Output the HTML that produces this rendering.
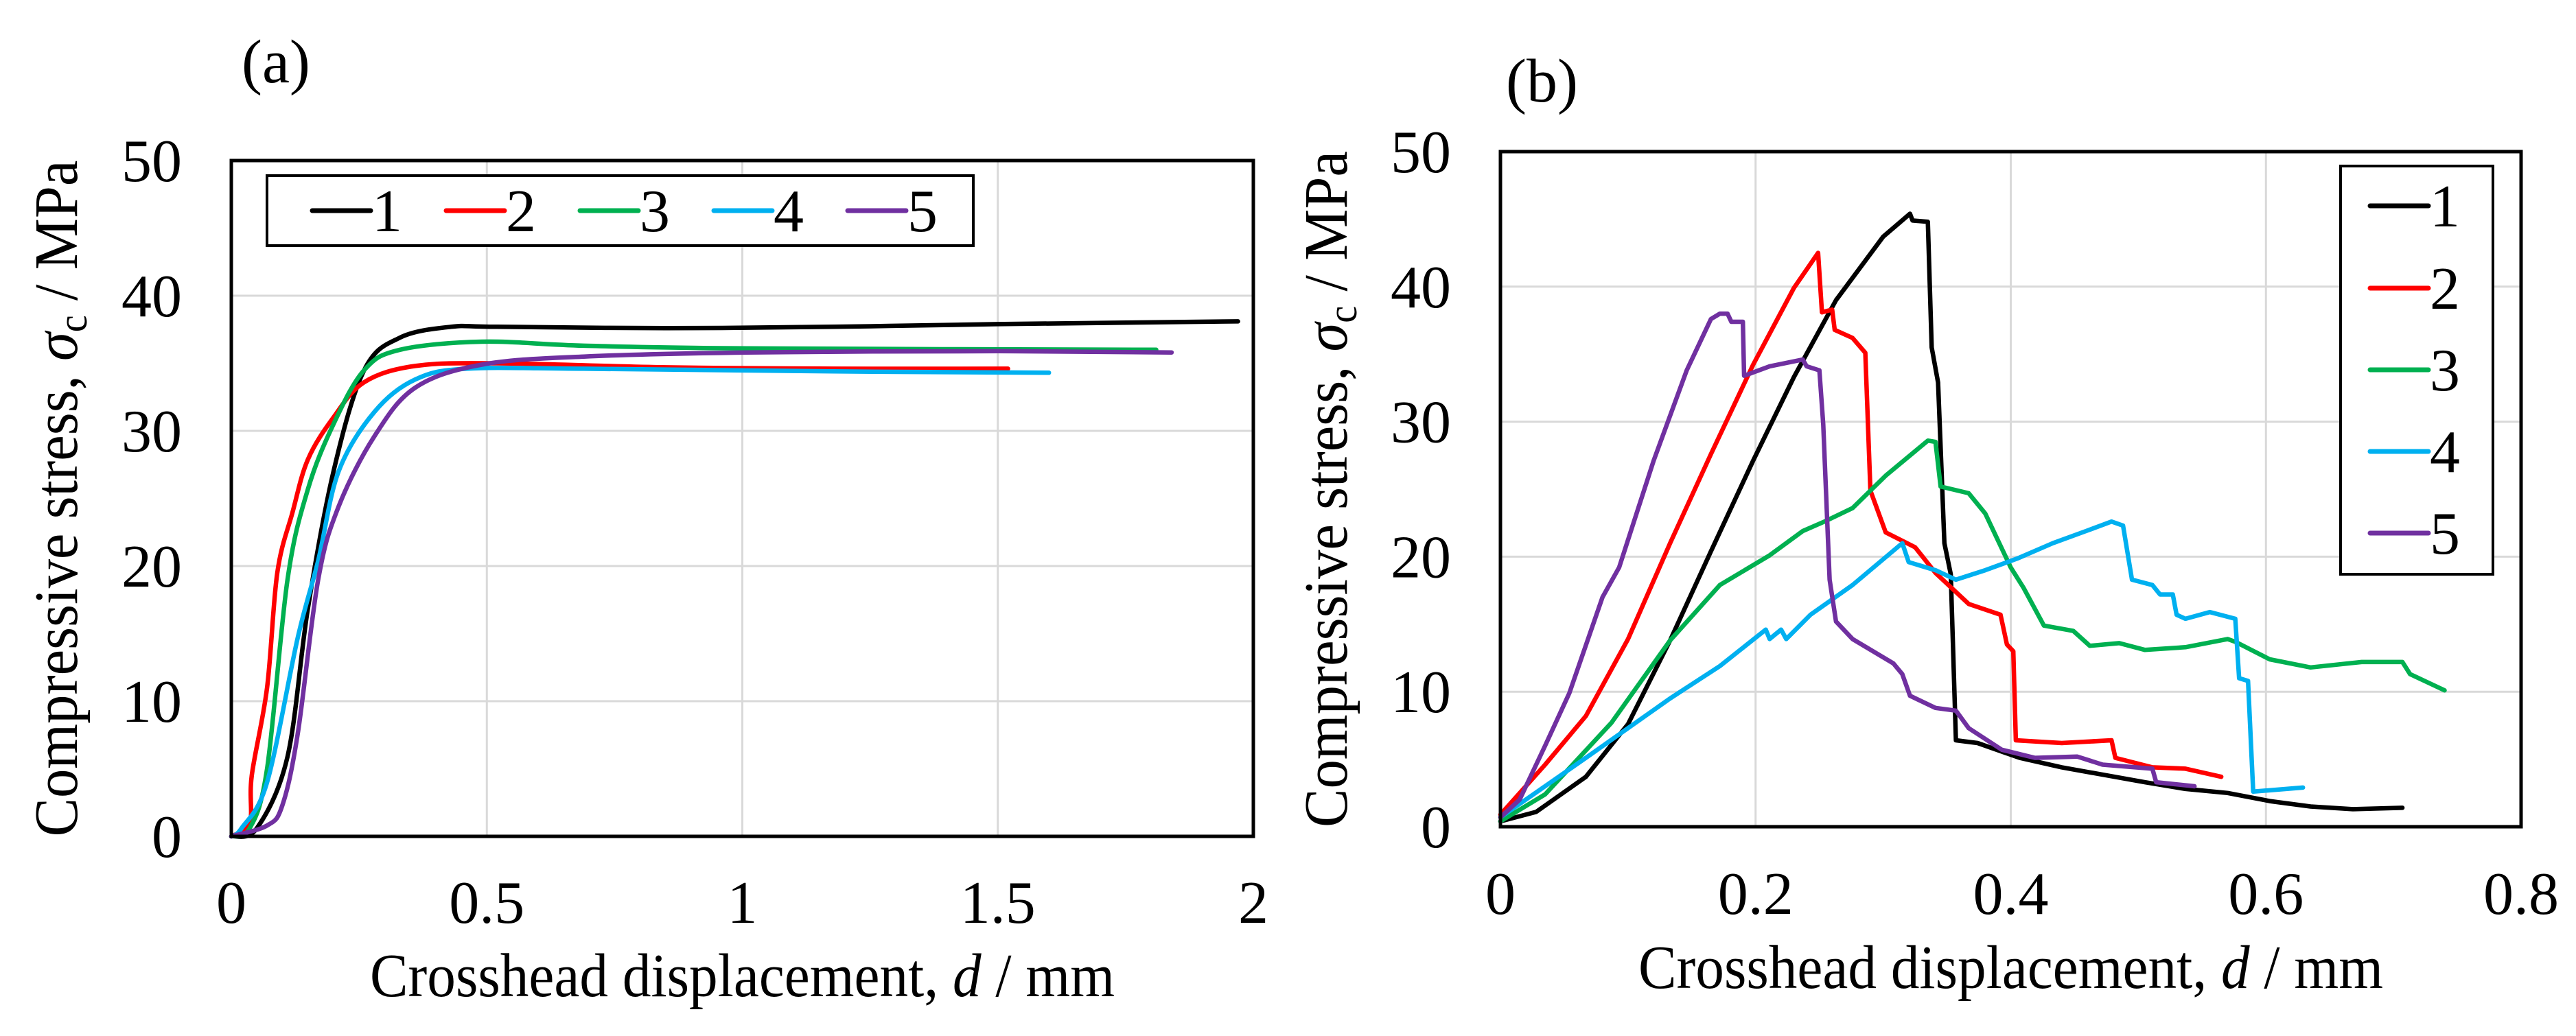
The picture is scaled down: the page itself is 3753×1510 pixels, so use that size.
<!DOCTYPE html>
<html><head><meta charset="utf-8"><style>
html,body{margin:0;padding:0;background:#fff;}
svg{display:block;font-family:"Liberation Serif",serif;}
</style></head><body>
<svg id="fig" width="3753" height="1510" viewBox="0 0 3753 1510" xmlns="http://www.w3.org/2000/svg">
<rect x="0" y="0" width="3753" height="1510" fill="#fff"/>
<text x="352" y="120" font-size="90">(a)</text>
<text x="2194" y="148" font-size="90">(b)</text>
<g id="pa"></g>
<g id="pb"></g>
</svg>
<script>
const colors = ["#000000","#ff0000","#00b050","#00b0f0","#7030a0"];
const seriesNames = ["1","2","3","4","5"];
// Panel (a) data: displacement (mm), stress (MPa)
const a1x=[0,0.05,0.11,0.15,0.2,0.26,0.33,0.43,0.52,0.85,1.18,1.5,1.97];
const a1y=[0,0.6,5.9,16.9,27,34.5,36.9,37.7,37.7,37.6,37.7,37.9,38.1];
const a2x=[0,0.036,0.04,0.07,0.09,0.12,0.15,0.2,0.26,0.36,0.52,0.85,1.18,1.52];
const a2y=[0,1,4.5,11,19.5,24,27.9,31,33.6,34.8,35,34.7,34.6,34.6];
const a3x=[0,0.036,0.07,0.11,0.15,0.2,0.26,0.33,0.49,0.69,1.01,1.81];
const a3y=[0,0.6,5,19,25.7,30.5,34.5,36,36.6,36.3,36.1,36.0];
const a4x=[0,0.02,0.07,0.13,0.17,0.21,0.28,0.36,0.46,0.69,1.18,1.6];
const a4y=[0,0.6,4,14.7,20.4,27,31.4,33.8,34.6,34.6,34.4,34.3];
const a5x=[0,0.07,0.1,0.13,0.17,0.21,0.28,0.36,0.49,0.69,1.01,1.5,1.84];
const a5y=[0,0.8,2.3,7.6,19,24.4,29.6,33.2,34.9,35.5,35.8,35.9,35.8];
// Panel (b)
const b1x=[0,0.028,0.067,0.1,0.133,0.165,0.198,0.23,0.263,0.3,0.321,0.323,0.335,0.338,0.343,0.348,0.353,0.357,0.374,0.407,0.44,0.505,0.537,0.57,0.603,0.635,0.668,0.707];
const b1y=[0.4,1.1,3.7,7.6,13.8,20.4,27.1,33.3,39,43.7,45.4,44.9,44.8,35.5,32.9,21,18.7,6.4,6.2,5.1,4.4,3.3,2.8,2.5,1.9,1.5,1.3,1.4];
const b2x=[0,0.035,0.067,0.1,0.133,0.165,0.198,0.23,0.249,0.252,0.26,0.262,0.276,0.286,0.29,0.302,0.325,0.341,0.367,0.392,0.397,0.402,0.404,0.44,0.479,0.482,0.511,0.537,0.565];
const b2y=[0.9,4.6,8.2,13.9,21,27.6,34.2,39.9,42.5,38.1,38.3,36.8,36.2,35.1,24.9,21.8,20.7,18.8,16.5,15.7,13.5,13,6.4,6.2,6.4,5.1,4.4,4.3,3.7];
const b3x=[0,0.035,0.087,0.133,0.172,0.211,0.237,0.254,0.276,0.302,0.335,0.341,0.345,0.367,0.38,0.4,0.41,0.426,0.449,0.462,0.485,0.505,0.537,0.57,0.576,0.603,0.635,0.675,0.707,0.713,0.74];
const b3y=[0.4,2.4,7.7,13.8,17.9,20.1,21.9,22.6,23.6,26,28.6,28.5,25.2,24.7,23.2,19.2,17.7,14.9,14.5,13.4,13.6,13.1,13.3,13.9,13.7,12.4,11.8,12.2,12.2,11.3,10.1];
const b4x=[0,0.067,0.133,0.172,0.208,0.211,0.22,0.224,0.243,0.276,0.315,0.32,0.341,0.357,0.38,0.406,0.433,0.459,0.479,0.488,0.495,0.511,0.517,0.527,0.53,0.537,0.556,0.576,0.579,0.586,0.59,0.629];
const b4y=[0.7,5.1,9.5,11.9,14.6,13.9,14.6,13.9,15.7,17.9,21,19.6,19,18.3,19,19.9,21,21.9,22.6,22.3,18.3,17.9,17.2,17.2,15.7,15.4,15.9,15.4,11,10.8,2.6,2.9];
const b5x=[0,0.015,0.035,0.054,0.08,0.093,0.12,0.146,0.165,0.172,0.178,0.181,0.19,0.191,0.211,0.237,0.24,0.25,0.253,0.258,0.263,0.276,0.308,0.315,0.321,0.341,0.357,0.367,0.393,0.419,0.452,0.472,0.511,0.514,0.544];
const b5y=[0.7,2,6,9.9,17,19.2,27.1,33.8,37.6,38,38,37.4,37.4,33.4,34.1,34.6,34.1,33.8,29.8,18.3,15.2,13.9,12.1,11.3,9.7,8.8,8.6,7.3,5.7,5.1,5.2,4.6,4.3,3.3,3];
const aXTicks=["0","0.5","1","1.5","2"];
const bXTicks=["0","0.2","0.4","0.6","0.8"];
const yTicks=["0","10","20","30","40","50"];

const NS="http://www.w3.org/2000/svg";
function mk(tag,attrs,parent){const e=document.createElementNS(NS,tag);for(const k in attrs)e.setAttribute(k,attrs[k]);parent.appendChild(e);return e;}
function smoothPath(P){
  let d="M"+P[0][0].toFixed(1)+","+P[0][1].toFixed(1);
  for(let i=0;i<P.length-1;i++){
    const p0=P[Math.max(0,i-1)],p1=P[i],p2=P[i+1],p3=P[Math.min(P.length-1,i+2)];
    const c1x=p1[0]+(p2[0]-p0[0])/6,c1y=p1[1]+(p2[1]-p0[1])/6;
    const c2x=p2[0]-(p3[0]-p1[0])/6,c2y=p2[1]-(p3[1]-p1[1])/6;
    d+="C"+c1x.toFixed(1)+","+c1y.toFixed(1)+" "+c2x.toFixed(1)+","+c2y.toFixed(1)+" "+p2[0].toFixed(1)+","+p2[1].toFixed(1);
  }
  return d;
}
function drawPanel(g,cfg){
  const {L,R,T,B,xmax,xt,series,xtBase,xtitleBase,ytitleX,legend,smooth}=cfg;
  const sx=v=>L+v/xmax*(R-L), sy=v=>B-v/50*(B-T);
  for(let i=1;i<xt.length-1;i++){const v=parseFloat(xt[i]);
    const l=mk("line",{x1:sx(v),x2:sx(v),y1:T,y2:B,stroke:"#d9d9d9","stroke-width":3},g);
    
    }
  for(let i=1;i<yTicks.length-1;i++){const v=parseFloat(yTicks[i]);
    const l=mk("line",{x1:L,x2:R,y1:sy(v),y2:sy(v),stroke:"#d9d9d9","stroke-width":3},g);
    
    }
  series.forEach((s,i)=>{
    const P=s[0].map((x,j)=>[sx(x),sy(s[1][j])]);
    const d=smooth?smoothPath(P):P.map((p,j)=>(j?"L":"M")+p[0].toFixed(1)+","+p[1].toFixed(1)).join("");
    const p=mk("path",{d:d,fill:"none",stroke:colors[i],"stroke-width":6.5,"stroke-linejoin":"round","stroke-linecap":"round"},g);
    
    
  });
  const fr=mk("rect",{x:L,y:T,width:R-L,height:B-T,fill:"none",stroke:"#000","stroke-width":5},g);
  
  
  xt.forEach(t=>{const e=mk("text",{x:sx(parseFloat(t)),y:xtBase,"font-size":88,"text-anchor":"middle"},g);e.textContent=t;
    
    });
  yTicks.forEach(t=>{const e=mk("text",{x:L-72,y:sy(parseFloat(t))+30,"font-size":88,"text-anchor":"end"},g);e.textContent=t;
    
    });
  const xtt=mk("text",{x:(L+R)/2,y:xtitleBase,"font-size":90,"text-anchor":"middle",textLength:1085,lengthAdjust:"spacingAndGlyphs"},g);
  xtt.innerHTML='Crosshead displacement, <tspan font-style="italic">d</tspan> / mm';
  
  
  const cy=(T+B)/2;
  const ytt=mk("text",{x:0,y:0,"font-size":90,"text-anchor":"middle",textLength:986,lengthAdjust:"spacingAndGlyphs",transform:`translate(${ytitleX},${cy}) rotate(-90)`},g);
  ytt.innerHTML='Compressive stress, <tspan font-style="italic">σ</tspan><tspan font-size="60" dy="14">c</tspan><tspan dy="-14"> / MPa</tspan>';
  
  
  const lb=mk("rect",{x:legend.x,y:legend.y,width:legend.w,height:legend.h,fill:"#fff",stroke:"#000","stroke-width":4},g);
  
  
  legend.items.forEach((it,i)=>{
    const ln=mk("line",{x1:it[0],x2:it[0]+85,y1:it[1],y2:it[1],stroke:colors[i],"stroke-width":7,"stroke-linecap":"round"},g);
    
    
    const tx=mk("text",{x:it[0]+87,y:it[1]+30,"font-size":88},g);tx.textContent=seriesNames[i];
    
    
  });
}
drawPanel(document.getElementById("pa"),{L:337,R:1826,T:234,B:1219,xmax:2,xt:aXTicks,smooth:true,
  series:[[a1x,a1y],[a2x,a2y],[a3x,a3y],[a4x,a4y],[a5x,a5y]],xtBase:1345,xtitleBase:1452,ytitleX:112,
  legend:{x:389,y:256,w:1029,h:102,items:[[455,307],[650,307],[845,307],[1040,307],[1235,307]]}});
drawPanel(document.getElementById("pb"),{L:2186,R:3673,T:221,B:1205,xmax:0.8,xt:bXTicks,smooth:false,
  series:[[b1x,b1y],[b2x,b2y],[b3x,b3y],[b4x,b4y],[b5x,b5y]],xtBase:1332,xtitleBase:1440,ytitleX:1962,
  legend:{x:3410,y:242,w:222,h:595,items:[[3453,300],[3453,420],[3453,539],[3453,658],[3453,777]]}});
</script>
</body></html>
